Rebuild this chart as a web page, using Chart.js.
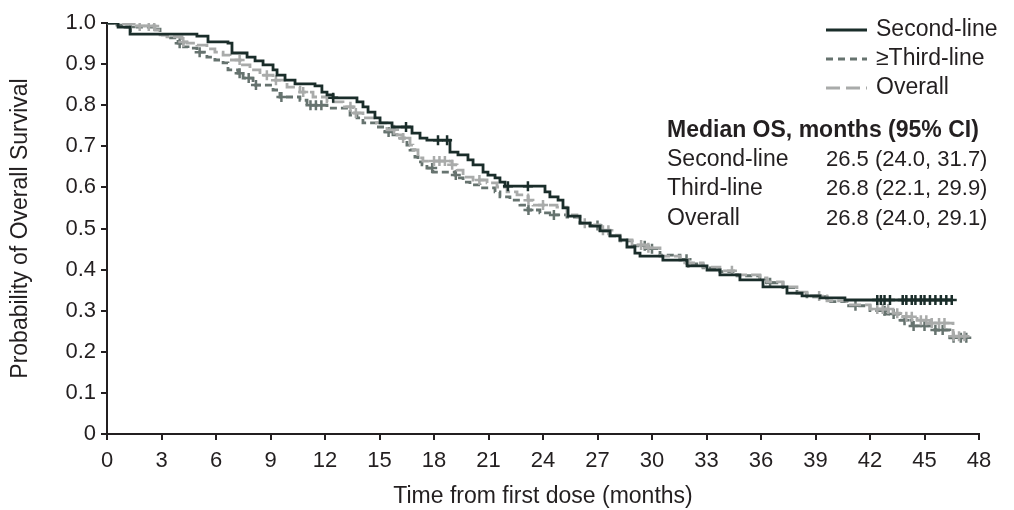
<!DOCTYPE html>
<html><head><meta charset="utf-8">
<script src="https://cdn.jsdelivr.net/npm/chart.js@4/dist/chart.umd.min.js"></script>
<style>html,body{margin:0;padding:0;background:#fff;}#wrap{width:1014px;height:510px;}</style>
</head><body><div id="wrap"><canvas id="c" width="1014" height="510"></canvas></div>
<script>
// ---- Data ----
const xTicks = [0,3,6,9,12,15,18,21,24,27,30,33,36,39,42,45,48];
const yTicks = [0,0.1,0.2,0.3,0.4,0.5,0.6,0.7,0.8,0.9,1.0];

const seriesNames = ["Second-line","\u2265Third-line","Overall"];
const tableLabels = ["Second-line","Third-line","Overall"];
const tableValues = ["26.5 (24.0, 31.7)","26.8 (22.1, 29.9)","26.8 (24.0, 29.1)"];

const secondTime = [0,0.61,1.27,4.95,5.56,6.66,6.88,7.71,8.15,8.59,9.14,9.36,9.80,10.35,11.45,11.83,12.11,12.44,13.76,14.09,14.37,14.75,15.03,15.69,16.79,17.23,17.61,18.88,19.32,19.87,20.15,20.70,20.97,21.36,21.63,21.91,24.11,24.38,24.83,25.10,25.38,26.04,26.59,27.14,27.69,28.24,28.62,29.06,29.34,30.60,31.93,33.03,33.74,34.84,36.11,37.43,38.26,39.25,40.62,46.51];
const secondSurv = [1.0,0.990,0.973,0.968,0.954,0.951,0.927,0.917,0.908,0.898,0.886,0.873,0.861,0.852,0.847,0.832,0.825,0.818,0.808,0.796,0.783,0.769,0.757,0.747,0.732,0.720,0.715,0.686,0.679,0.667,0.655,0.637,0.630,0.623,0.613,0.603,0.589,0.577,0.569,0.550,0.530,0.513,0.506,0.494,0.482,0.472,0.455,0.440,0.433,0.423,0.409,0.399,0.387,0.375,0.358,0.343,0.336,0.331,0.326,0.326];
const secondCensor = [12.45,16.46,18.22,18.72,22.07,23.17,42.4,42.6,42.8,43.1,43.8,44.0,44.3,44.5,44.8,45.0,45.3,45.6,45.9,46.2,46.5];

const thirdTime = [0,0.55,0.99,2.53,2.92,3.30,3.91,4.13,4.46,4.95,5.50,5.94,6.39,6.66,7.21,7.49,8.04,9.14,9.52,10.62,11.01,12.11,13.38,13.76,14.09,14.86,15.30,15.74,16.13,16.51,16.68,16.95,17.12,17.34,17.61,17.94,19.16,19.32,19.60,19.98,20.53,21.36,21.63,22.18,22.73,23.17,23.83,24.55,25.32,26.04,26.59,27.14,27.69,28.24,28.90,29.72,30.44,31.54,31.93,32.81,33.74,34.68,35.94,36.33,37.21,37.98,38.53,39.63,40.73,42.00,42.82,43.65,44.31,45.58,46.40,47.34];
const thirdSurv = [1.0,0.995,0.990,0.985,0.971,0.964,0.951,0.942,0.939,0.929,0.917,0.910,0.903,0.886,0.878,0.866,0.849,0.837,0.820,0.812,0.800,0.793,0.776,0.769,0.757,0.747,0.735,0.728,0.720,0.703,0.691,0.674,0.662,0.655,0.647,0.637,0.630,0.623,0.613,0.606,0.599,0.589,0.577,0.569,0.557,0.545,0.538,0.533,0.528,0.513,0.507,0.494,0.482,0.470,0.458,0.451,0.435,0.425,0.414,0.404,0.395,0.385,0.377,0.368,0.356,0.343,0.334,0.322,0.312,0.300,0.292,0.277,0.263,0.253,0.234,0.234];
const thirdCensor = [1.3,4.0,5.1,7.3,7.8,8.2,9.6,11.2,11.5,11.8,15.5,17.9,19.2,23.2,24.6,27.0,29.6,30.0,31.9,36.5,41.2,42.8,43.3,43.9,44.4,45.0,45.6,46.0,46.6,47.0,47.3];

const overallTime = [0,0.55,1.54,2.64,2.92,3.30,4.13,4.40,4.95,5.50,5.94,6.39,6.77,7.32,7.87,8.42,9.14,9.91,10.62,11.34,12.11,12.99,13.54,14.09,14.75,15.41,15.96,16.29,16.68,16.84,17.12,17.39,18.99,19.27,19.60,20.15,20.92,21.47,22.02,22.57,23.17,23.45,24.77,25.32,25.87,26.04,26.59,27.14,27.69,28.24,28.90,29.72,30.44,31.54,31.93,32.81,33.74,34.68,35.94,36.33,37.21,37.98,38.53,39.63,40.73,42.00,43.27,43.82,44.59,45.30,46.57,47.34];
const overallSurv = [1.0,0.998,0.993,0.983,0.971,0.966,0.954,0.951,0.946,0.937,0.929,0.922,0.910,0.898,0.886,0.873,0.861,0.844,0.832,0.820,0.808,0.796,0.781,0.769,0.757,0.740,0.728,0.720,0.703,0.691,0.672,0.664,0.655,0.642,0.625,0.618,0.611,0.601,0.589,0.582,0.569,0.557,0.552,0.533,0.528,0.513,0.509,0.496,0.484,0.472,0.460,0.453,0.433,0.423,0.416,0.406,0.397,0.387,0.380,0.370,0.358,0.345,0.336,0.324,0.314,0.304,0.294,0.285,0.277,0.270,0.238,0.238];
const overallCensor = [1.3,1.8,2.3,2.6,4.2,7.3,8.8,9.3,10.8,13.4,13.7,15.8,16.3,18.0,18.3,18.6,19.0,20.5,23.2,24.0,26.3,27.3,27.6,29.4,29.8,32.0,34.4,39.2,42.4,42.7,43.0,43.5,44.0,44.3,44.8,45.1,45.4,45.8,46.1,46.6,46.9,47.2];

// ---- Styles ----
const TEXT = '#231f20';
const FONT = '"Liberation Sans", Arial, Helvetica, sans-serif';
const C_SECOND = '#1a2d2a';
const C_THIRD = '#66736f';
const C_OVERALL = '#a9abaa';

function curve(t, s){ return t.map((v,i)=>({x:v, y:s[i]})); }
function stepAt(t, s, x){ let i=0; while(i+1<t.length && t[i+1]<=x) i++; return s[i]; }
function censors(t, s, c){ return c.map(x=>({x:x, y:stepAt(t,s,x)})); }

const lineDS = (label, data, color, dash, w) => ({
  label, data, borderColor: color, borderWidth: w, borderDash: dash,
  stepped: true, pointRadius: 0, fill: false, tension: 0
});
const censDS = (label, data, color) => ({
  label, data, showLine: false, pointStyle: 'cross', pointRadius: 5,
  pointBorderWidth: 2.5, borderColor: color, backgroundColor: color, pointHoverRadius: 5
});

const overlay = {
  id: 'overlay',
  afterDraw(chart){
    const ctx = chart.ctx;
    ctx.save();
    const ly = [30, 59, 88];
    const styles = [[C_SECOND, [], 3],[C_THIRD,[7,5],3],[C_OVERALL,[14,6],3]];
    styles.forEach((st,i)=>{
      ctx.beginPath();
      ctx.strokeStyle = st[0]; ctx.lineWidth = st[2]; ctx.setLineDash(st[1]);
      ctx.moveTo(826, ly[i]); ctx.lineTo(867, ly[i]); ctx.stroke();
    });
    ctx.setLineDash([]);
    ctx.fillStyle = TEXT; ctx.textBaseline = 'middle'; ctx.textAlign = 'left';
    ctx.font = '23px ' + FONT;
    seriesNames.forEach((n,i)=> ctx.fillText(n, 876, ly[i]));
    ctx.font = 'bold 23px ' + FONT;
    ctx.fillText('Median OS, months (95% CI)', 667, 131);
    const ty = [160, 189, 219];
    tableLabels.forEach((n,i)=>{
      ctx.font = '23px ' + FONT; ctx.fillText(n, 667, ty[i]);
      ctx.font = '22px ' + FONT; ctx.fillText(tableValues[i], 826, ty[i]);
    });
    ctx.restore();
  }
};

new Chart(document.getElementById('c'), {
  type: 'line',
  data: {
    datasets: [
      censDS('c2', censors(secondTime, secondSurv, secondCensor), C_SECOND),
      lineDS(seriesNames[0], curve(secondTime, secondSurv), C_SECOND, [], 2.8),
      censDS('co', censors(overallTime, overallSurv, overallCensor), C_OVERALL),
      lineDS(seriesNames[2], curve(overallTime, overallSurv), C_OVERALL, [12,4], 2.8),
      censDS('c3', censors(thirdTime, thirdSurv, thirdCensor), C_THIRD),
      lineDS(seriesNames[1], curve(thirdTime, thirdSurv), C_THIRD, [7,4], 2.8)
    ]
  },
  options: {
    responsive: false, animation: false, devicePixelRatio: 1,
    layout: { padding: { top: 23, right: 35, left: 0, bottom: 0 } },
    plugins: { legend: { display: false }, tooltip: { enabled: false } },
    scales: {
      x: {
        type: 'linear', min: 0, max: 48,
        afterBuildTicks: s => { s.ticks = xTicks.map(v=>({value:v})); },
        afterFit: s => { s.height = 76; },
        ticks: { color: TEXT, font: { family: FONT, size: 22 }, padding: 8, maxRotation: 0, autoSkip: false },
        grid: { drawOnChartArea: false, drawTicks: true, tickLength: 6, color: TEXT, lineWidth: 2 },
        border: { display: true, color: TEXT, width: 2 },
        title: { display: true, text: 'Time from first dose (months)', color: TEXT, font: { family: FONT, size: 23 }, padding: { top: 0, bottom: 0 } }
      },
      y: {
        type: 'linear', min: 0, max: 1,
        afterBuildTicks: s => { s.ticks = yTicks.map(v=>({value:v})); },
        afterFit: s => { s.width = 107; },
        ticks: { color: TEXT, font: { family: FONT, size: 22 }, padding: 5, autoSkip: false,
          callback: v => Math.abs(v) < 1e-9 ? '0' : v.toFixed(1) },
        grid: { drawOnChartArea: false, drawTicks: true, tickLength: 6, color: TEXT, lineWidth: 2 },
        border: { display: true, color: TEXT, width: 2 },
        title: { display: true, text: 'Probability of Overall Survival', color: TEXT, font: { family: FONT, size: 23 }, padding: { top: 7, bottom: 0 } }
      }
    }
  },
  plugins: [overlay]
});
</script>
</body></html>
